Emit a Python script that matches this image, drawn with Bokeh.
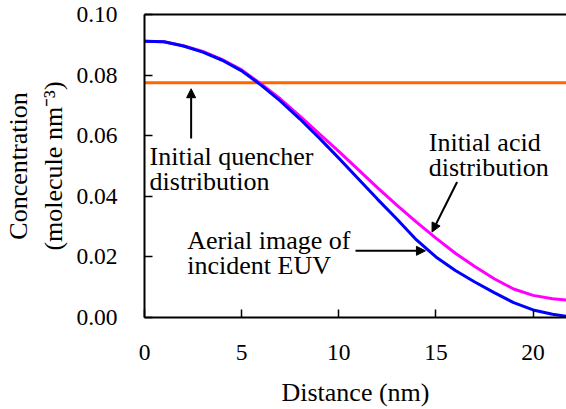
from bokeh.plotting import figure
from bokeh.models import (Range1d, FixedTicker, LinearAxis, Arrow, NormalHead,
                          ColumnDataSource, NumeralTickFormatter)
from bokeh.core.properties import value
from bokeh.embed import file_html
from bokeh.resources import INLINE

# ---- data ----
distance = [0, 1, 2, 3, 4, 5, 6, 7, 8, 9, 10, 11, 12, 13, 14, 15, 16, 17, 18, 19, 20, 21, 21.72]
aerial_euv = [0.0912, 0.0910, 0.0896, 0.0876, 0.0849, 0.0814, 0.0767, 0.0714, 0.0655, 0.0592,
              0.0526, 0.0458, 0.0390, 0.0324, 0.0256, 0.0200, 0.0155, 0.0117, 0.0082, 0.0049,
              0.0025, 0.0011, 0.0004]
initial_acid = [0.0912, 0.0910, 0.0897, 0.0878, 0.0851, 0.0817, 0.0771, 0.0721, 0.0665, 0.0606,
                0.0548, 0.0488, 0.0428, 0.0370, 0.0315, 0.0262, 0.0212, 0.0168, 0.0128, 0.0094,
                0.0073, 0.0062, 0.0058]
quencher_x = [0, 21.72]
quencher_y = [0.0775, 0.0775]
x_ticks = [0, 5, 10, 15, 20]
y_ticks = [0.0, 0.02, 0.04, 0.06, 0.08, 0.10]

FONT = "Liberation Serif"

p = figure(width=566, height=409, x_range=Range1d(0, 21.72), y_range=Range1d(0, 0.10),
           output_backend="svg", toolbar_location=None,
           min_border_left=144, min_border_right=0, min_border_top=14, min_border_bottom=92)
p.outline_line_color = None
p.grid.visible = False
p.background_fill_color = "white"
p.border_fill_color = "white"

p.line(quencher_x, quencher_y, line_color="#FF6600", line_width=3)
p.line(distance, initial_acid, line_color="#FF00FF", line_width=3)
p.line(distance, aerial_euv, line_color="#0000FF", line_width=3)

for ax in (p.xaxis[0], p.yaxis[0]):
    ax.axis_line_width = 2
    ax.major_tick_line_width = 1.5
    ax.major_tick_in = 8
    ax.major_tick_out = 0
    ax.minor_tick_line_color = None
    ax.major_label_text_font = FONT
    ax.major_label_text_font_size = "23.5px"
    ax.major_label_text_color = "black"
    ax.axis_label_text_font = FONT
    ax.axis_label_text_font_size = "26px"
    ax.axis_label_text_font_style = "normal"
    ax.axis_label_text_color = "black"

p.xaxis.ticker = FixedTicker(ticks=x_ticks)
p.yaxis.ticker = FixedTicker(ticks=y_ticks)
p.yaxis.formatter = NumeralTickFormatter(format="0.00")
p.xaxis.major_label_standoff = 27
p.yaxis.major_label_standoff = 27
p.xaxis.axis_label = "Distance (nm)"
p.xaxis.axis_label_standoff = 15
p.yaxis.axis_label = "Concentration\n(molecule nm\u207B\u00B3)"
p.yaxis.axis_label_standoff = 5
p.yaxis.axis_label_text_line_height = 1.22

top = LinearAxis(ticker=FixedTicker(ticks=[]), major_label_text_font_size="0px",
                 major_tick_in=0, major_tick_out=0, minor_tick_line_color=None,
                 axis_line_width=2, major_label_standoff=0, axis_label_standoff=0)
p.add_layout(top, "above")

# annotation texts
ann = ColumnDataSource(dict(
    x=[0.26, 0.26, 14.63, 14.63, 2.2, 2.2],
    y=[0.0530, 0.0448, 0.0577, 0.0495, 0.0253, 0.0172],
    text=["Initial quencher", "distribution", "Initial acid", "distribution",
          "Aerial image of", "incident EUV"],
))
p.text(x="x", y="y", text="text", source=ann, text_font=value(FONT),
       text_font_size="26px", text_baseline="alphabetic", text_align="left",
       text_color="black")

def arrow(xs, ys, xe, ye):
    p.add_layout(Arrow(end=NormalHead(size=9, fill_color="black", line_color="black"),
                       x_start=xs, y_start=ys, x_end=xe, y_end=ye,
                       line_width=2, line_color="black"))

arrow(2.40, 0.0591, 2.40, 0.0755)
arrow(16.09, 0.0447, 14.80, 0.0282)
arrow(10.86, 0.0220, 14.46, 0.0220)

open("out.html", "w").write(file_html(p, INLINE))
